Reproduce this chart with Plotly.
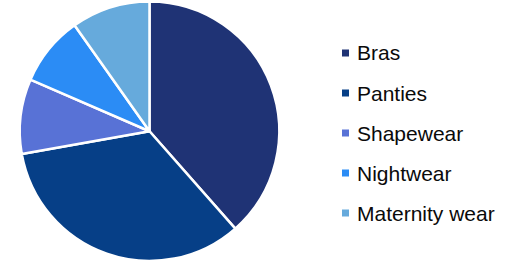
import plotly.graph_objects as go

categories = ["Bras", "Panties", "Shapewear", "Nightwear", "Maternity wear"]
values = [38.5, 33.7, 9.3, 8.7, 9.8]
colors = ["#1F3375", "#063F87", "#5872D6", "#2B8CF5", "#66AADC"]

W, H = 508, 261
cx, cy, r = 149.5, 131.5, 130.0

fig = go.Figure(go.Pie(
    labels=categories,
    values=values,
    sort=False,
    direction="clockwise",
    rotation=0,
    textinfo="none",
    hoverinfo="label+percent",
    marker=dict(colors=colors, line=dict(color="white", width=2.5)),
    domain=dict(x=[(cx - r) / W, (cx + r) / W],
                y=[max(0, (H - cy - r) / H), min(1, (H - cy + r) / H)]),
    showlegend=False,
))

# custom legend: small squares + labels
leg_x_sq = 342
leg_x_txt = 355
leg_y0 = 53.0
leg_dy = 40
sq = 7
shapes = []
annotations = []
for i, (cat, col) in enumerate(zip(categories, colors)):
    yc = leg_y0 + i * leg_dy
    shapes.append(dict(type="rect", xref="paper", yref="paper",
                       x0=leg_x_sq / W, x1=(leg_x_sq + sq) / W,
                       y0=1 - (yc + sq / 2) / H, y1=1 - (yc - sq / 2) / H,
                       fillcolor=col, line=dict(width=0)))
    annotations.append(dict(text=cat, xref="paper", yref="paper",
                            x=leg_x_txt / W, y=1 - yc / H,
                            xanchor="left", yanchor="middle", showarrow=False,
                            font=dict(family="Liberation Sans, Arial", size=21, color="#0a0a0a")))

fig.update_layout(
    width=W, height=H,
    margin=dict(l=0, r=0, t=0, b=0),
    paper_bgcolor="white",
    plot_bgcolor="white",
    shapes=shapes,
    annotations=annotations,
)

fig.write_html("out.html",
               config={"displayModeBar": False},
               post_script="document.body.style.margin='0px';document.documentElement.style.overflow='hidden';")
